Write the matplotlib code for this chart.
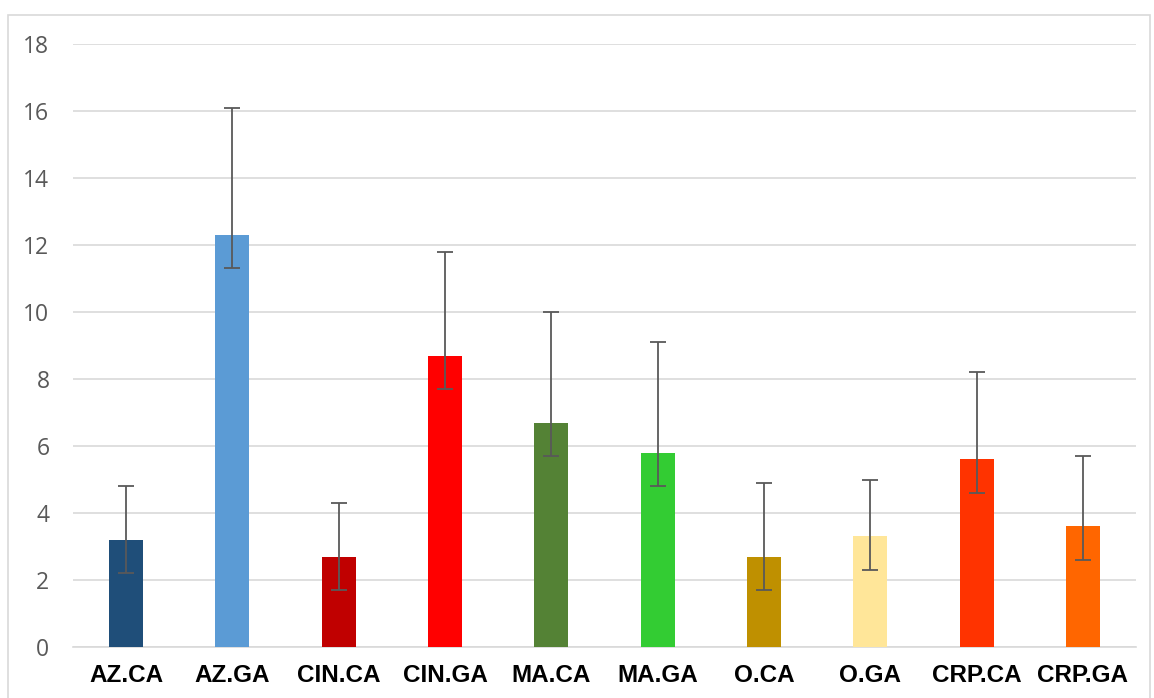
import matplotlib.pyplot as plt
from matplotlib.patches import Rectangle

categories = ["AZ.CA", "AZ.GA", "CIN.CA", "CIN.GA", "MA.CA",
              "MA.GA", "O.CA", "O.GA", "CRP.CA", "CRP.GA"]
values = [3.2, 12.3, 2.7, 8.7, 6.7, 5.8, 2.7, 3.3, 5.6, 3.6]
err_low = [1.0, 1.0, 1.0, 1.0, 1.0, 1.0, 1.0, 1.0, 1.0, 1.0]
err_high = [1.6, 3.8, 1.6, 3.1, 3.3, 3.3, 2.2, 1.7, 2.6, 2.1]
colors = ["#1f4e79", "#5b9bd5", "#c00000", "#ff0000", "#548235",
          "#33cc33", "#bf9000", "#ffe699", "#ff3300", "#ff6600"]
yticks = [0, 2, 4, 6, 8, 10, 12, 14, 16, 18]

fig = plt.figure(figsize=(11.54, 6.98), dpi=100)
ax = fig.add_axes([73 / 1154, 51 / 698, 1063 / 1154, 603 / 698])

# outer chart frame like the spreadsheet export
fig.patches.append(Rectangle((8 / 1154, -0.01), 1142 / 1154, (698 - 15) / 698 + 0.01,
                             transform=fig.transFigure, fill=False,
                             edgecolor="#d9d9d9", linewidth=1.2))

x = range(len(categories))
ax.bar(x, values, width=0.32, color=colors, zorder=3)
ax.errorbar(x, values, yerr=[err_low, err_high], fmt="none", ecolor="#595959",
            elinewidth=1.3, capsize=6, capthick=1.3, zorder=4)

ax.set_xlim(-0.5, len(categories) - 0.5)
ax.set_ylim(0, 18)
ax.set_yticks(yticks)
ax.yaxis.grid(True, color="#d9d9d9", linewidth=1.2, zorder=0)
ax.set_axisbelow(True)
for s in ["top", "right", "left"]:
    ax.spines[s].set_visible(False)
ax.spines["bottom"].set_color("#d9d9d9")
ax.spines["bottom"].set_linewidth(1.2)

ax.set_xticks(list(x))
ax.set_xticklabels(categories, fontsize=17.5, fontweight="bold",
                   family="Liberation Sans", color="black")
ax.tick_params(axis="x", length=0, pad=12)
ax.tick_params(axis="y", length=0, pad=17, labelsize=16.5, labelcolor="#595959")
for t in ax.get_yticklabels():
    t.set_family("Open Sans")

fig.savefig("out.png", dpi=100)
plt.close(fig)
